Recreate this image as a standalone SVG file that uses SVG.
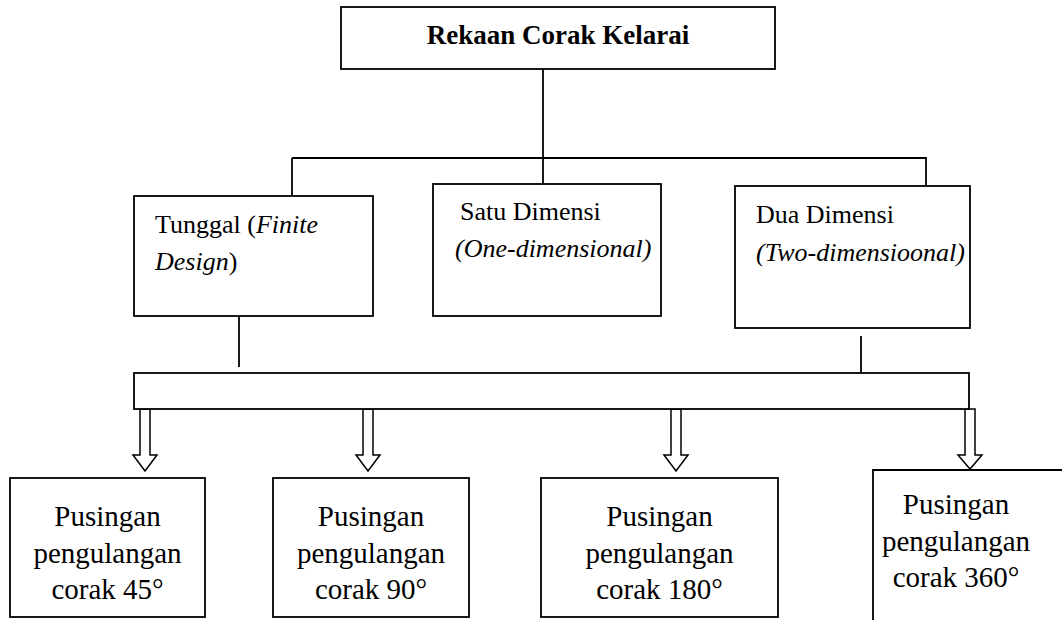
<svg xmlns="http://www.w3.org/2000/svg" width="1062" height="620" viewBox="0 0 1062 620" font-family="'Liberation Serif', 'DejaVu Serif', serif">
<style>
.box{fill:#fff;stroke:#000;stroke-width:1.8}
.ln{stroke:#000;stroke-width:1.8;fill:none}
.arr{fill:#fff;stroke:#000;stroke-width:1.5;stroke-linejoin:miter}
text{font-family:'Liberation Serif','DejaVu Serif',serif;fill:#000}
.t{font-size:26px}
.b{font-size:29px;text-anchor:middle}
.h{font-size:27px;font-weight:bold;text-anchor:middle}
.i{font-style:italic}
</style>
<rect width="1062" height="620" fill="#fff"/>
<g id="connectors">
<line class="ln" x1="543" y1="69" x2="543" y2="184"/>
<line class="ln" x1="292" y1="158" x2="926" y2="158"/>
<line class="ln" x1="292" y1="158" x2="292" y2="196"/>
<line class="ln" x1="926" y1="157" x2="926" y2="186"/>
<line class="ln" x1="239" y1="316" x2="239" y2="367"/>
<line class="ln" x1="861" y1="336" x2="861" y2="373"/>
<polygon class="arr" points="140,409 150,409 150,455 157,455 145,471 133,455 140,455"/>
<polygon class="arr" points="363,409 373,409 373,455 380,455 368,471 356,455 363,455"/>
<polygon class="arr" points="671,409 681,409 681,455 688,455 676,471 664,455 671,455"/>
<polygon class="arr" points="965,409 975,409 975,455 982,455 970,469 958,455 965,455"/>
</g>
<g id="title">
<rect class="box" x="341" y="7" width="434" height="62"/>
<text class="h" x="558" y="44">Rekaan Corak Kelarai</text>
</g>
<g id="tunggal">
<rect class="box" x="134" y="196" width="239" height="120"/>
<text class="t" x="155" y="233">Tunggal (<tspan class="i">Finite</tspan></text>
<text class="t" x="155" y="270"><tspan class="i">Design</tspan>)</text>
</g>
<g id="satu">
<rect class="box" x="433" y="184" width="228" height="132"/>
<text class="t" x="460" y="220">Satu Dimensi</text>
<text class="t i" x="455" y="257">(One-dimensional)</text>
</g>
<g id="dua">
<rect class="box" x="735" y="186" width="235" height="142"/>
<text class="t" x="756" y="223">Dua Dimensi</text>
<text class="t i" x="756" y="261">(Two-dimensioonal)</text>
</g>
<g id="bar">
<rect class="box" x="134" y="373" width="835" height="36"/>
</g>
<g id="p45">
<rect class="box" x="10" y="478" width="195" height="139"/>
<text class="b" x="107.5" y="526">Pusingan</text>
<text class="b" x="107.5" y="563">pengulangan</text>
<text class="b" x="107.5" y="599">corak 45°</text>
</g>
<g id="p90">
<rect class="box" x="273" y="478" width="196" height="139"/>
<text class="b" x="371" y="526">Pusingan</text>
<text class="b" x="371" y="563">pengulangan</text>
<text class="b" x="371" y="599">corak 90°</text>
</g>
<g id="p180">
<rect class="box" x="541" y="478" width="237" height="139"/>
<text class="b" x="659.5" y="526">Pusingan</text>
<text class="b" x="659.5" y="563">pengulangan</text>
<text class="b" x="659.5" y="599">corak 180°</text>
</g>
<g id="p360">
<path class="ln" d="M873,620 V470 H1062"/>
<text class="b" x="956" y="514">Pusingan</text>
<text class="b" x="956" y="551">pengulangan</text>
<text class="b" x="956" y="587">corak 360°</text>
</g>
</svg>
